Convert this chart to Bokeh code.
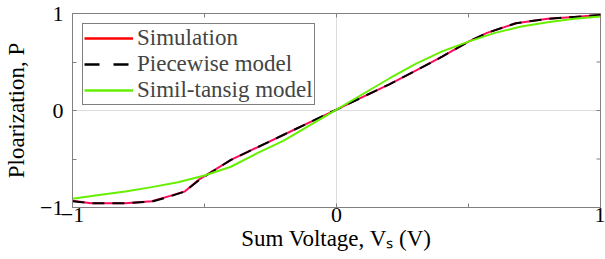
import math
from bokeh.plotting import figure
from bokeh.models import Range1d, FixedTicker, Legend, LegendItem
from bokeh.embed import file_html
from bokeh.resources import INLINE

# ---------------- data ----------------
sim_x = [-1.0, -0.93, -0.8, -0.7, -0.63, -0.575, -0.52, -0.4, -0.3, -0.2, -0.1, 0.0,
         0.1, 0.2, 0.3, 0.4, 0.5, 0.57, 0.68, 0.8, 0.9, 1.0]
sim_y = [-0.93, -0.955, -0.955, -0.935, -0.88, -0.835, -0.71, -0.51, -0.38, -0.25, -0.12, 0.01,
         0.14, 0.27, 0.41, 0.555, 0.71, 0.80, 0.90, 0.945, 0.965, 0.985]

pw_x = [-1.0, -0.93, -0.8, -0.7, -0.63, -0.575, -0.52, -0.4, -0.3, -0.2, -0.1, 0.0,
        0.1, 0.2, 0.3, 0.4, 0.5, 0.57, 0.68, 0.8, 0.9, 1.0]
pw_y = [-0.935, -0.955, -0.955, -0.94, -0.885, -0.835, -0.715, -0.51, -0.38, -0.25, -0.12, 0.01,
        0.14, 0.27, 0.41, 0.555, 0.71, 0.80, 0.90, 0.945, 0.965, 0.985]

tan_x = [-1.0, -0.9, -0.8, -0.7, -0.6, -0.5, -0.4, -0.3, -0.2, -0.1, 0.0,
         0.1, 0.2, 0.3, 0.4, 0.5, 0.6, 0.7, 0.8, 0.9, 1.0]
tan_y = [-0.91, -0.87, -0.835, -0.79, -0.74, -0.67, -0.58, -0.44, -0.31, -0.15, 0.01,
         0.17, 0.33, 0.48, 0.61, 0.71, 0.80, 0.865, 0.91, 0.945, 0.97]

series_names = ["Simulation", "Piecewise model", "Simil-tansig model"]

x_major = [-1, 0, 1]
x_minor = [-0.5, 0.5]
y_major = [-1, 0, 1]
y_minor = [-0.5, 0.5]
all_x_ticks = [-1, -0.5, 0, 0.5, 1]
all_y_ticks = [-1, -0.5, 0, 0.5, 1]

x_title = "Sum Voltage, V\u209b (V)"
y_title = "Ploarization, P"

# ---------------- style ----------------
FONT = "Liberation Serif"
FS_TICK = "22px"
FS_TEXT = "23px"
AXC = "#808080"
SIM_C = "#ff0a5a"
SIM_LEG_C = "#ff0000"
GREEN = "#66f000"

X0, X1 = -1, 1
Y0, Y1 = -1, 1

p = figure(width=605, height=259, x_range=Range1d(X0, X1), y_range=Range1d(Y0, Y1),
           output_backend="svg", toolbar_location=None,
           min_border_left=72, min_border_right=5, min_border_top=13, min_border_bottom=52)
p.outline_line_color = AXC
p.background_fill_color = "white"
p.border_fill_color = "white"

for ax, maj, mnr in ((p.xaxis[0], x_major, x_minor), (p.yaxis[0], y_major, y_minor)):
    ax.ticker = FixedTicker(ticks=maj, minor_ticks=mnr)
    ax.major_tick_in = 4
    ax.major_tick_out = 0
    ax.minor_tick_in = 4
    ax.minor_tick_out = 0
    ax.axis_line_color = AXC
    ax.major_tick_line_color = AXC
    ax.minor_tick_line_color = AXC
    ax.major_label_text_font = FONT
    ax.major_label_text_font_size = FS_TICK
    ax.major_label_text_color = "black"
    ax.axis_label_text_font = FONT
    ax.axis_label_text_font_size = FS_TEXT
    ax.axis_label_text_font_style = "normal"
    ax.axis_label_text_color = "black"

p.xaxis.axis_label = x_title
p.yaxis.axis_label = y_title
p.xaxis.major_label_standoff = 0
p.xaxis.axis_label_standoff = 1
p.yaxis.major_label_standoff = 9
p.yaxis.axis_label_standoff = 8

p.xgrid.ticker = FixedTicker(ticks=[0])
p.ygrid.ticker = FixedTicker(ticks=[0])
p.xgrid.grid_line_color = "#dcdcdc"
p.ygrid.grid_line_color = "#dcdcdc"

# box ticks on top and right edges (half-clipped dash markers -> inward ticks)
p.scatter(all_x_ticks, [Y1] * len(all_x_ticks), marker="dash", size=8, angle=math.pi / 2,
          line_color=AXC, line_width=1)
p.scatter([X1] * len(all_y_ticks), all_y_ticks, marker="dash", size=8,
          line_color=AXC, line_width=1)

# ---------------- lines ----------------
p.line(sim_x, sim_y, line_color=SIM_C, line_width=2)
p.line(pw_x, pw_y, line_color="black", line_width=2, line_dash="12 8")
p.line(tan_x, tan_y, line_color=GREEN, line_width=2)

# legend proxies (nothing visible in the plot area)
nan = float("nan")
d1 = p.line([nan], [nan], line_color=SIM_LEG_C, line_width=2.5)
d2 = p.line([nan], [nan], line_color="black", line_width=2.5, line_dash="15 14")
d3 = p.line([nan], [nan], line_color=GREEN, line_width=2.5)

legend = Legend(items=[LegendItem(label=series_names[0], renderers=[d1]),
                       LegendItem(label=series_names[1], renderers=[d2]),
                       LegendItem(label=series_names[2], renderers=[d3])],
                location="top_left", margin=10, padding=1, spacing=0,
                glyph_width=49, glyph_height=20, label_height=20, label_standoff=4,
                label_text_font=FONT, label_text_font_size=FS_TEXT,
                border_line_color="black", border_line_width=1,
                background_fill_color="white", background_fill_alpha=1)
p.add_layout(legend)

open("out.html", "w").write(file_html(p, INLINE))
